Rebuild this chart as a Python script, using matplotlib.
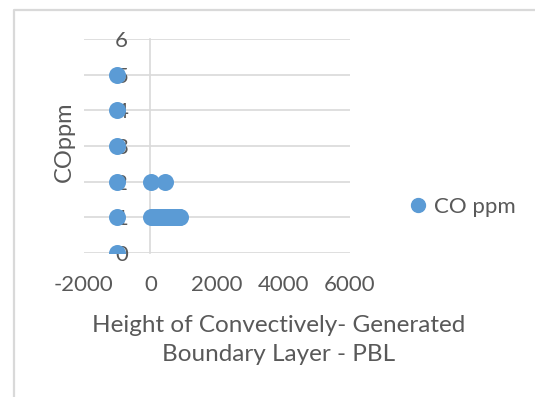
import matplotlib
matplotlib.use("Agg")
import matplotlib.pyplot as plt
from matplotlib.lines import Line2D

plt.rcParams['font.family'] = ['Lato', 'DejaVu Sans']
plt.rcParams['axes.unicode_minus'] = False

# CO concentration (ppm) against PBL height; -999 marks missing heights
pbl_height = [-999, -999, -999, -999, -999, -999,
              30, 450,
              20, 80, 150, 210, 290, 350, 420, 500, 560, 640, 700, 780, 850, 900]
co_ppm = [0, 1, 2, 3, 4, 5,
          2, 2,
          1, 1, 1, 1, 1, 1, 1, 1, 1, 1, 1, 1, 1, 1]

x_ticks = [-2000, 0, 2000, 4000, 6000]
y_ticks = [0, 1, 2, 3, 4, 5, 6]

text_col = '#595959'
grid_col = '#d9d9d9'
blue = '#5b9bd5'

fig = plt.figure(figsize=(5.35, 3.97), dpi=100)
ax = fig.add_axes([0.157, 0.363, 0.497, 0.539])

ax.scatter(pbl_height, co_ppm, s=150, color=blue, zorder=3, linewidths=0)

ax.set_xlim(-2000, 6000)
ax.set_ylim(0, 6)
ax.set_xticks(x_ticks)
ax.set_yticks(y_ticks)

ax.grid(axis='y', color=grid_col, linewidth=1.2)
ax.set_axisbelow(True)
for side in ['top', 'right', 'bottom']:
    ax.spines[side].set_visible(False)
ax.spines['left'].set_position(('data', 0))
ax.spines['left'].set_color(grid_col)
ax.spines['left'].set_linewidth(1.2)
ax.spines['left'].set_zorder(1)

ax.tick_params(axis='y', length=0, pad=16, labelsize=16, labelcolor=text_col)
ax.tick_params(axis='x', length=0, pad=16, labelsize=16, labelcolor=text_col)

ax.set_xlabel('Height of Convectively- Generated\nBoundary Layer - PBL',
              fontsize=17.5, color=text_col, linespacing=1.45)
ax.xaxis.set_label_coords(0.733, -0.29)
ax.set_ylabel('COppm', fontsize=17, color=text_col)
ax.yaxis.set_label_coords(-0.035, 0.52)

handle = Line2D([], [], marker='o', linestyle='none', color=blue, markersize=10)
fig.legend([handle], ['CO ppm'], loc='center left', bbox_to_anchor=(0.765, 0.478),
           frameon=False, fontsize=16, labelcolor=text_col,
           handlelength=0.8, handletextpad=0.3, borderaxespad=0, borderpad=0)

# chart area border (top and left edges)
fig.add_artist(Line2D([0.027, 0.027, 1.0], [0.0, 0.975, 0.975],
                      transform=fig.transFigure, color=grid_col, linewidth=1.6))

fig.savefig('out.png', dpi=100)
